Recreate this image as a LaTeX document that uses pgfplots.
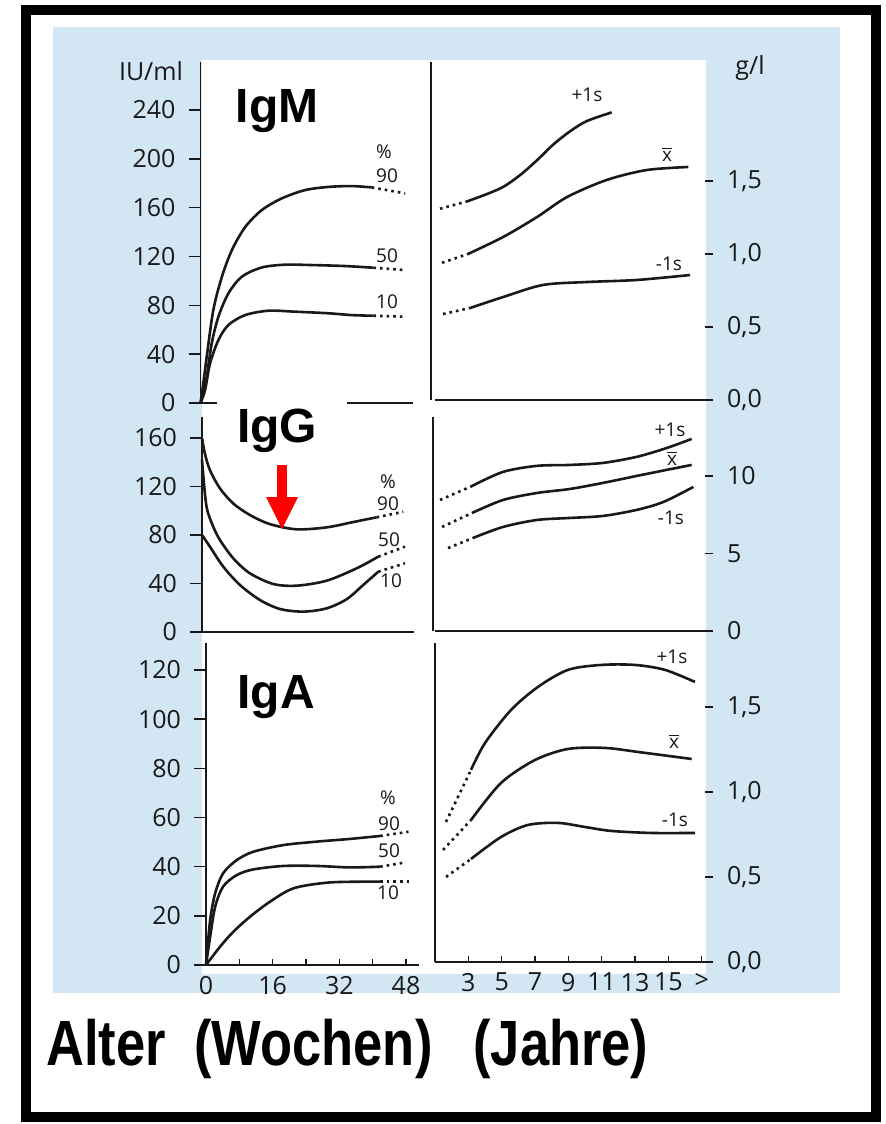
\documentclass[border=0pt]{standalone}
\usepackage{fontspec}
\setmainfont{Open Sans}
\newfontfamily\headfont{Liberation Sans}
\newfontfamily\capfont[FakeStretch=0.82]{Liberation Sans}
\usepackage{pgfplots}
\pgfplotsset{compat=1.18}
\definecolor{scanblue}{RGB}{210,230,244}
\definecolor{ink}{RGB}{25,25,25}
\newcommand{\tk}{\fontsize{12.5}{14}\selectfont}
\newcommand{\sm}{\fontsize{9.5}{11}\selectfont}
\newcommand{\hd}{\headfont\bfseries\fontsize{24}{28}\selectfont}
\pgfplotsset{
 ibase/.style={scale only axis, anchor=south west, clip=false,
   axis line style={line width=0.9pt, ink},
   tick style={line width=0.8pt, ink},
   tick align=outside,
   every tick label/.append style={font=\tk, text=ink},
   /pgf/number format/assume math mode=true},
 lpanel/.style={ibase, width=106.25pt, xmin=0, xmax=51, ymin=0,
   axis x line*=bottom, axis y line*=left, xtick=\empty,
   major tick length=6pt, yticklabel style={xshift=-3pt}},
 rpanel/.style={ibase, width=135pt, xmin=1, xmax=17.2, ymin=0,
   axis x line*=bottom, axis y line*=right, xtick=\empty,
   y axis line style={draw=none},
   major tick length=4pt, yticklabel style={xshift=3.5pt}},
 cur/.style={line width=1.3pt, ink, smooth, no markers},
 dot/.style={line width=1.3pt, ink, dash pattern=on 1.3pt off 2pt, no markers},
}
\begin{document}
\begin{tikzpicture}
\begin{scope}[x=0.5pt,y=-0.5pt]
 \fill[white] (0,0) rectangle (885,1124);
 \fill[scanblue] (53,27) rectangle (840,993);
 \fill[white] (202,60) rectangle (706,974);
\end{scope}

% ---------- IgM weeks
\begin{axis}[lpanel, at={(100.25pt,-201.5pt)}, height=170.3pt, ymax=279,
  ytick={0,40,80,120,160,200,240}, yticklabels={0,40,80,120,160,200,240}]
\addplot[cur] coordinates {(0,0)(0.67,16)(1.5,38)(3.07,76)(5.1,103)(7.5,125)(10.7,144)(14.7,158)(19.5,167.6)(25.1,174.4)(30.7,177)(36.3,177.7)(41.1,176.6)};
\addplot[dot] coordinates {(41.1,176.6)(49.1,171.7)};
\addplot[cur] coordinates {(0,0)(0.7,8)(1.5,21.5)(2.7,49)(4.3,70.7)(6.7,89.8)(9.9,103.4)(14.7,111)(20.3,113.3)(26.7,113)(34.7,112.2)(41.5,110.8)};
\addplot[dot] coordinates {(41.5,110.8)(48.7,109)};
\addplot[cur] coordinates {(0,0)(1.1,10.6)(2.3,32.5)(4.3,51.6)(6.7,63.9)(10.7,72)(16.3,75.6)(22.7,74.8)(30.7,73.5)(36.3,72)(41.5,71.5)};
\addplot[dot] coordinates {(41.5,71.5)(48.7,70.7)};
\end{axis}

% ---------- IgG weeks
\begin{axis}[lpanel, at={(101pt,-316pt)}, height=107.3pt, ymax=177,
  ytick={0,40,80,120,160}, yticklabels={0,40,80,120,160}]
\addplot[cur] coordinates {(0,160)(0.7,147)(1.9,133.6)(4.3,118.5)(7.5,106)(11.5,96.5)(16.3,89)(22.7,84.7)(29.9,86.3)(36.3,90.7)(41.9,94.6)};
\addplot[dot] coordinates {(41.9,94.6)(48.3,99.2)};
\addplot[cur] coordinates {(0,142)(0.7,114)(1.3,100)(2.7,86.8)(4.3,75.9)(7.5,60.8)(11.5,48.4)(17.1,39.6)(22.7,38.2)(29.9,42.3)(37.1,52.5)(42.3,62.1)};
\addplot[dot] coordinates {(42.3,62.1)(48.7,70.4)};
\addplot[cur] coordinates {(0,80)(1.9,70.4)(5.1,53.9)(9.1,38.8)(13.9,26.4)(18.7,19)(24.3,16.8)(29.9,19.5)(34.7,27)(38.7,38.8)(42.3,49.7)};
\addplot[dot] coordinates {(42.3,49.7)(48.7,56.7)};
\end{axis}

% ---------- IgA weeks
\begin{axis}[lpanel, at={(103pt,-482.5pt)}, height=161pt, ymax=131,
  ytick={0,20,40,60,80,100,120}, yticklabels={0,20,40,60,80,100,120}]
\addplot[cur] coordinates {(0,0)(1,18.3)(2.2,29.2)(4.1,37.3)(7.4,42.7)(11.4,46.1)(18.6,48.8)(26.6,50.2)(34.6,51.3)(41.8,52.5)};
\addplot[dot] coordinates {(41.8,52.5)(48.6,54.2)};
\addplot[cur] coordinates {(0,0)(1,11.5)(2.2,23.7)(4.1,31.9)(7.4,36.6)(11.4,38.9)(18.6,40.3)(26.6,40.3)(34.6,39.7)(41.8,40)};
\addplot[dot] coordinates {(41.8,40)(47.4,41.6)};
\addplot[cur] coordinates {(0,0)(3.4,7.5)(6.6,13.6)(10.6,19.7)(15.4,25.8)(21,31.2)(29,33.5)(37,33.9)(41.8,33.9)};
\addplot[dot] coordinates {(41.8,33.9)(49,33.9)};
\end{axis}
\begin{axis}[ibase, at={(103pt,-482.5pt)}, width=106.25pt, height=161pt,
  xmin=0, xmax=51, ymin=0, ymax=131, axis x line*=bottom, axis y line=none,
  tick align=inside, major tick length=3pt, minor tick length=3pt,
  xtick={0,16,32,48}, xticklabels={0,16,32,48}, minor xtick={8,24,40},
  ytick=\empty, xticklabel style={yshift=-2pt}]
\end{axis}

% ---------- IgM years
\begin{axis}[rpanel, at={(217.5pt,-200pt)}, height=169pt, ymax=2.315,
  ytick={0,0.5,1,1.5}, yticklabels={{0,0},{0,5},{1,0},{1,5}}]
\draw[line width=0.9pt, ink] (rel axis cs:-0.015,0) -- (rel axis cs:-0.015,1);
\addplot[dot] coordinates {(1.3,1.31)(2.92,1.36)};
\addplot[cur] coordinates {(2.92,1.36)(4.1,1.41)(5.1,1.46)(6.1,1.54)(7.1,1.64)(8.1,1.75)(9.1,1.84)(10.1,1.91)(11.6,1.97)};
\addplot[dot] coordinates {(1.42,0.94)(2.98,1.0)};
\addplot[cur] coordinates {(2.98,1.0)(5.08,1.116)(7.12,1.253)(8.92,1.39)(11.3,1.507)(13.7,1.575)(16.2,1.596)};
\addplot[dot] coordinates {(1.48,0.589)(3.1,0.63)};
\addplot[cur] coordinates {(3.1,0.63)(5.08,0.705)(7.48,0.788)(10.1,0.808)(13.1,0.822)(16.3,0.856)};
\end{axis}

% ---------- IgG years
\begin{axis}[rpanel, at={(217.5pt,-315.5pt)}, height=107pt, ymax=13.8,
  ytick={0,5,10}, yticklabels={0,5,10}]
\draw[line width=0.9pt, ink] (rel axis cs:-0.007,0) -- (rel axis cs:-0.007,1);
\addplot[dot] coordinates {(1.3,8.45)(3.22,9.35)};
\addplot[cur] coordinates {(3.22,9.35)(5.08,10.26)(7.12,10.65)(9.1,10.71)(11.08,10.84)(13.1,11.23)(14.9,11.8)(16.4,12.39)};
\addplot[dot] coordinates {(1.42,6.71)(3.22,7.61)};
\addplot[cur] coordinates {(3.22,7.61)(5.08,8.45)(7.12,8.9)(9.1,9.16)(11.08,9.55)(13.1,10.0)(14.9,10.39)(16.4,10.71)};
\addplot[dot] coordinates {(1.78,5.35)(3.28,6.0)};
\addplot[cur] coordinates {(3.28,6.0)(5.08,6.71)(7.12,7.16)(9.1,7.29)(11.08,7.42)(13.1,7.81)(14.7,8.32)(16.5,9.29)};
\end{axis}

% ---------- IgA years
\begin{axis}[rpanel, at={(217.5pt,-481pt)}, height=159.5pt, ymax=1.876,
  ytick={0,0.5,1,1.5}, yticklabels={{0,0},{0,5},{1,0},{1,5}}]
\draw[line width=0.9pt, ink] (rel axis cs:0,0) -- (rel axis cs:0,1);
\addplot[dot] coordinates {(1.66,0.824)(3.16,1.13)};
\addplot[cur] coordinates {(3.16,1.13)(4.0,1.288)(5.56,1.482)(7.18,1.618)(8.98,1.718)(10.96,1.747)(13,1.747)(14.8,1.718)(16.6,1.647)};
\addplot[dot] coordinates {(1.48,0.659)(3.16,0.835)};
\addplot[cur] coordinates {(3.16,0.835)(4.96,1.053)(7.0,1.188)(8.98,1.253)(11.2,1.259)(13.2,1.235)(16.4,1.194)};
\addplot[dot] coordinates {(1.66,0.5)(3.16,0.606)};
\addplot[cur] coordinates {(3.16,0.606)(4.96,0.735)(6.58,0.806)(8.38,0.818)(10,0.794)(11.56,0.771)(13.96,0.759)(16.6,0.759)};
\end{axis}
\begin{axis}[ibase, at={(217.5pt,-481pt)}, width=135pt, height=159.5pt,
  xmin=1, xmax=17.2, ymin=0, ymax=1.876, axis x line*=bottom, axis y line=none,
  tick align=inside, major tick length=3pt,
  xtick={3,5,7,9,11,13,15,17}, xticklabels={3,5,7,9,11,13,15,>},
  ytick=\empty, xticklabel style={yshift=-2pt}]
\end{axis}

\begin{scope}[x=0.5pt,y=-0.5pt]
 % unit labels
 \node[font=\tk, text=ink] at (151,71) {IU/ml};
 \node[font=\tk, text=ink] at (750,68) {g/l};
 % percentile labels
 \begin{scope}[every node/.style={font=\sm, text=ink, inner sep=0}]
  \node at (384,152) {\%}; \node at (387,176) {90}; \node at (387,256) {50}; \node at (387,302) {10};
  \node at (388,482) {\%}; \node at (388,504) {90}; \node at (389,540) {50}; \node at (391,581) {10};
  \node at (388,798) {\%}; \node at (389,824) {90}; \node at (389,851) {50}; \node at (388,893) {10};
  \node at (587,95) {+1s}; \node at (667,154) {$\overline{\mbox{x}}$}; \node at (669,264) {-1s};
  \node at (670,430) {+1s}; \node at (672,458) {$\overline{\mbox{x}}$}; \node at (671,518) {-1s};
  \node at (672,657) {+1s}; \node at (674,741) {$\overline{\mbox{x}}$}; \node at (675,820) {-1s};
 \end{scope}
 % white label boxes
 \fill[white] (217,63) rectangle (347,143);
 \fill[white] (217,385) rectangle (347,463);
 \fill[white] (217,640) rectangle (347,720);
 \node[font=\hd, anchor=base, inner sep=0] at (277,122) {IgM};
 \node[font=\hd, anchor=base, inner sep=0] at (277,442) {IgG};
 \node[font=\hd, anchor=base, inner sep=0] at (276,708) {IgA};
 % red arrow
 \fill[red] (277,465) rectangle (287,498);
 \fill[red] (266,497) -- (298,497) -- (282,529) -- cycle;
 % bottom caption
 \node[font=\capfont\bfseries\fontsize{32}{36}\selectfont, anchor=base west, inner sep=0] at (46,1065) {Alter};
 \node[font=\capfont\bfseries\fontsize{32}{36}\selectfont, anchor=base west, inner sep=0] at (194,1065) {(Wochen)};
 \node[font=\capfont\bfseries\fontsize{32}{36}\selectfont, anchor=base west, inner sep=0] at (473,1065) {(Jahre)};
 % frame
 \draw[line width=5pt] (26,9.5) rectangle (876,1116.5);
\end{scope}
\pgfresetboundingbox
\path[use as bounding box] (0,0) rectangle (442.5pt,-562pt);
\end{tikzpicture}
\end{document}
